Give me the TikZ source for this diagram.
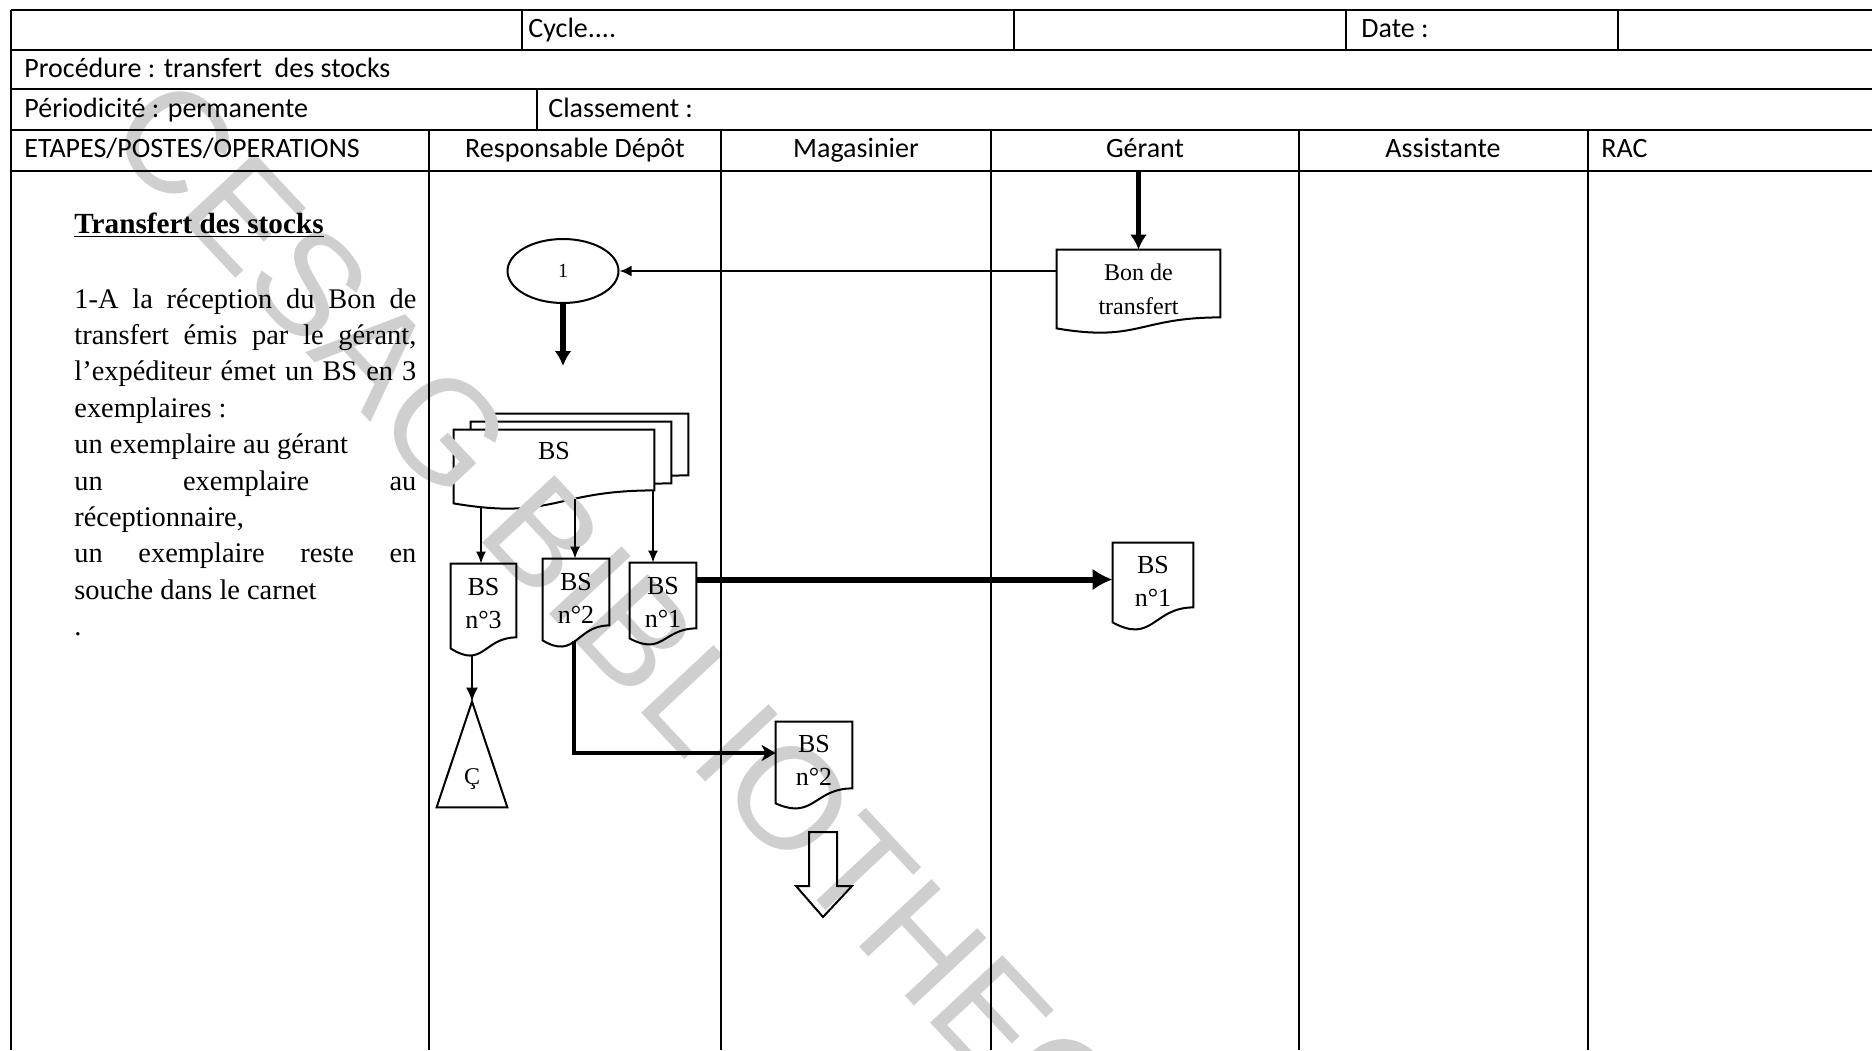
\documentclass[tikz,border=0pt]{standalone}
\usepackage{fontspec}
\setmainfont{Liberation Serif}
\newfontfamily\hdrfont{Carlito}
\newfontfamily\wmfont{Liberation Sans}
\usetikzlibrary{calc,arrows.meta,shapes.geometric}
\pgfdeclarelayer{fills}
\pgfdeclarelayer{mark}
\pgfsetlayers{fills,mark,main}
\newcommand\docshape[5][]{\draw[docline,#1] (#2.north west) -- (#2.north east) -- ($(#2.south east)+(0,{-(#3)})$) .. controls ($(#2.south)+(0,{-(#3)})$) and ($(#2.south)+(0,{#5-(#3)})$) .. ($(#2.south west)+(0,{#4-(#3)})$) -- cycle;}
\tikzset{
  grid/.style={line width=1pt, black},
  hdr/.style={font=\hdrfont\fontsize{14}{16}\selectfont, inner sep=0pt, anchor=base west},
  hdrc/.style={font=\hdrfont\fontsize{14}{16}\selectfont, inner sep=0pt, anchor=base},
  body/.style={font=\fontsize{14.2}{18.2}\selectfont, inner sep=0pt, anchor=base west},
  docnode/.style={rectangle, inner sep=0pt, align=center, font=\fontsize{13}{16.5}\selectfont},
  docline/.style={line width=1pt, line join=miter},
  thickarrow/.style={line width=2.7pt, -{Latex[length=7.5pt,width=8.5pt]}},
  medarrow/.style={line width=1.3pt, -{Latex[length=6pt,width=5.5pt]}},
  thinarrow/.style={line width=0.8pt, -{Latex[length=6pt,width=5pt]}},
  bigarrow/.style={line width=3pt, -{Latex[length=10pt,width=11pt]}},
  elbowarrow/.style={line width=1.6pt, -{Stealth[length=7pt,width=8pt,inset=2pt]}},
  wmark/.style={font=\wmfont\fontsize{72}{80}\selectfont, text=black!19, inner sep=0pt}
}
\begin{document}
\begin{tikzpicture}[x=0.5pt,y=-0.5pt]
\useasboundingbox (0,0) rectangle (1872,1050);
\begin{pgfonlayer}{fills}
\fill[white] (0,0) rectangle (1872,1050);
\end{pgfonlayer}
% watermark
\begin{pgfonlayer}{mark}
\node[wmark, rotate=-47, anchor=mid west] (wm) at (107,133) {CESAG BIBLIOTHEQUE};
\end{pgfonlayer}
% table
\foreach \yy in {10,50,89,130,171} \draw[grid] (11,\yy) -- (1872,\yy);
\draw[grid] (11,10) -- (11,1050);
\foreach \xx in {522,1014,1346,1618} \draw[grid] (\xx,10) -- (\xx,50);
\draw[grid] (537,89) -- (537,130);
\foreach \xx in {429,721,991,1299,1588} \draw[grid] (\xx,130) -- (\xx,1050);
% header texts
\node[hdr] (cyc) at (528,37) {Cycle....};
\node[hdr] (date) at (1361,37) {Date :};
\node[hdr] (proc) at (24,77) {Procédure : transfert\ \ des stocks};
\node[hdr] (per) at (24,117) {Périodicité : permanente};
\node[hdr] (cls) at (548,117) {Classement :};
\node[hdr] (etp) at (24,157) {ETAPES/POSTES/OPERATIONS};
\node[hdrc] (rd) at (575,157) {Responsable Dépôt};
\node[hdrc] (mg) at (856,157) {Magasinier};
\node[hdrc] (ge) at (1145,157) {Gérant};
\node[hdrc] (as) at (1443,157) {Assistante};
\node[hdr] (rac) at (1601,157) {RAC};
% left column text
\node[body, font=\bfseries\fontsize{14.6}{18.2}\selectfont] (title) at (74,233) {\underline{Transfert des stocks}};
\node[body] (l1) at (74,308) {\makebox[171pt][s]{1-A la réception du Bon de}};
\node[body] (l2) at (74,344.4) {\makebox[171pt][s]{transfert émis par le gérant,}};
\node[body] (l3) at (74,380.8) {\makebox[171pt][s]{l’expéditeur émet un BS en 3}};
\node[body] (l4) at (74,417.2) {exemplaires :};
\node[body] (l5) at (74,453.6) {un exemplaire au gérant};
\node[body] (l6) at (74,490) {\makebox[171pt][s]{un exemplaire au}};
\node[body] (l7) at (74,526.4) {réceptionnaire,};
\node[body] (l8) at (74,562.8) {\makebox[171pt][s]{un exemplaire reste en}};
\node[body] (l9) at (74,599.2) {souche dans le carnet};
\node[body] (l10) at (74,635) {.};
% Gerant: bon de transfert
\coordinate (gtop) at (1138.5,172);
\node[docnode, minimum width=81.5pt, minimum height=39pt, font=\fontsize{12}{17}\selectfont] (bon) at (1138.5,289) {Bon de\\transfert};
\docshape{bon}{11}{11}{25}
\draw[thickarrow] (gtop) -- (bon.north);
% connector 1
\node[ellipse, draw, line width=1pt, minimum width=55.5pt, minimum height=32pt, inner sep=0pt, font=\fontsize{10}{12}\selectfont] (e1) at (563,271) {1};
\draw[medarrow] (bon.west |- e1.east) -- (e1.east);
\coordinate (e1end) at (563,366);
\draw[thickarrow] (e1.south) -- (e1end);
% stacked BS
\node[docnode, minimum width=100pt, minimum height=30.5pt] (bsA) at (588,444.5) {};
\node[docnode, minimum width=100pt, minimum height=30.5pt] (bsB) at (571,452.5) {};
\node[docnode, minimum width=100pt, minimum height=21pt] (bsC) at (554,451) {BS};
\begin{pgfonlayer}{fills}
\docshape[fill=white]{bsA}{0}{13}{30}
\docshape[fill=white]{bsB}{0}{13}{30}
\docshape[fill=white]{bsC}{-18}{13}{30}
\end{pgfonlayer}
% copies
\node[docnode, minimum width=32.5pt, minimum height=39.5pt] (n3) at (483.5,603.5) {BS\\n°3};
\docshape{n3}{6}{11}{32}
\node[docnode, minimum width=33pt, minimum height=39.5pt] (n2) at (576,598.5) {BS\\n°2};
\docshape{n2}{13}{15}{35}
\node[docnode, minimum width=33pt, minimum height=39.5pt] (n1) at (663,602.5) {BS\\n°1};
\docshape{n1}{14}{10}{28}
\coordinate (c3) at (481,507);
\coordinate (c2) at (575,499);
\coordinate (c1) at (653,490);
\draw[thinarrow] (c3) -- (c3 |- n3.north);
\draw[thinarrow] (c2) -- (c2 |- n2.north);
\draw[thinarrow] (c1) -- (c1 |- n1.north);
% archive
\node[rectangle, inner sep=0pt, minimum width=35pt, minimum height=52.5pt, font=\fontsize{12}{14}\selectfont] (tri) at (472,754.5) {\raisebox{-15pt}[0pt][0pt]{Ç}};
\draw[docline] (tri.north) -- (tri.south east) -- (tri.south west) -- cycle;
\coordinate (c4) at (472,655);
\draw[thinarrow, line width=1pt, -{Latex[length=7pt,width=6pt]}] (c4) -- (c4 |- tri.north);
% gerant copy
\node[docnode, minimum width=40pt, minimum height=38.5pt] (g1) at (1153,581.5) {BS\\n°1};
\docshape{g1}{13}{15}{37}
\draw[bigarrow] ([yshift=1pt]g1.west -| n1.east) -- ([yshift=1pt]g1.west);
% magasinier copy
\node[docnode, minimum width=38pt, minimum height=38pt] (m2) at (814,760) {BS\\n°2};
\docshape{m2}{10}{15}{32}
\coordinate (c5) at (574,641);
\draw[elbowarrow] (c5) |- ([yshift=3.5pt]m2.west);
% big hollow arrow
\draw[docline] (809,832) -- (837,832) -- (837,886) -- (852,886) -- (823,917) -- (796,886) -- (809,886) -- cycle;
\end{tikzpicture}
\end{document}
